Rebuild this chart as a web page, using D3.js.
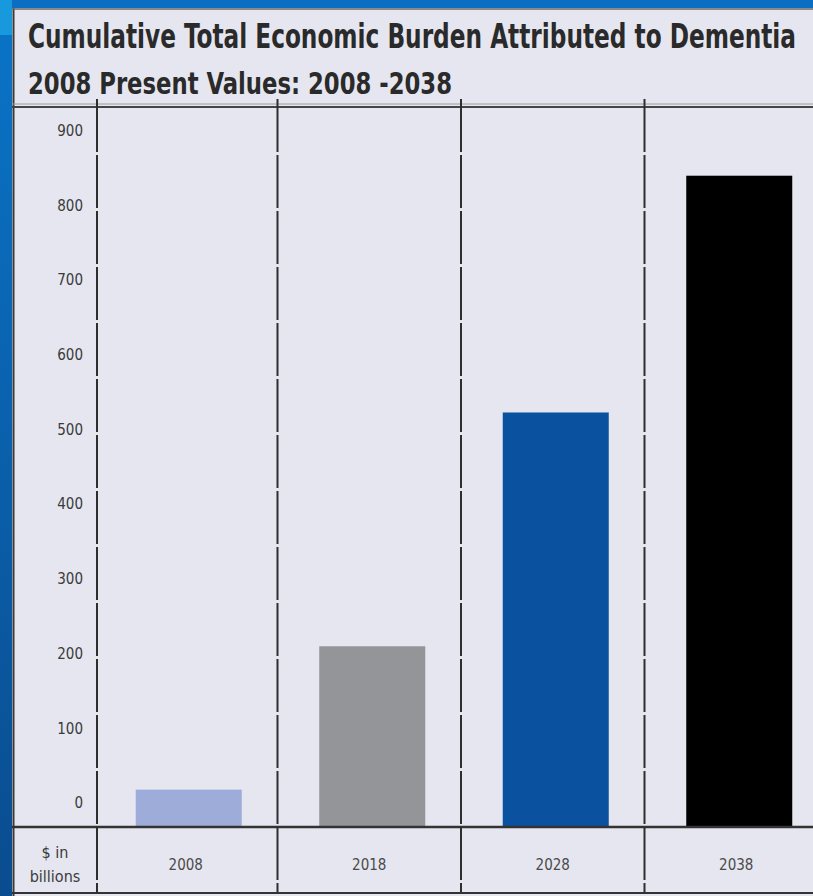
<!DOCTYPE html>
<html>
<head>
<meta charset="utf-8">
<script src="https://cdn.jsdelivr.net/npm/d3@7"></script>
<style>
  html, body { margin: 0; padding: 0; background: #0a6cc0; }
  svg { display: block; }
</style>
</head>
<body>
<div id="chart"></div>
<script>
// chart data
const years = ["2008", "2018", "2028", "2038"];
const burden = [50, 242, 555, 872];   // $ billions, cumulative
const yTicks = [0, 100, 200, 300, 400, 500, 600, 700, 800, 900];
const titleLines = [
  "Cumulative Total Economic Burden Attributed to Dementia",
  "2008 Present Values: 2008 -2038"
];
const unitLines = ["$ in", "billions"];

const barColors = ["#9dacd8", "#949599", "#0a52a0", "#000000"];

const width = 813, height = 896;
const narrow = "'DejaVu Sans Condensed', 'Liberation Sans Narrow', 'Roboto', sans-serif";

const svg = d3.select("#chart").append("svg")
  .attr("width", width)
  .attr("height", height);

const defs = svg.append("defs");
const stripGrad = defs.append("linearGradient")
  .attr("id", "stripGrad")
  .attr("x1", "0%").attr("x2", "0%")
  .attr("y1", "0%").attr("y2", "100%");
stripGrad.append("stop").attr("offset", "0%").attr("stop-color", "#0a74c8");
stripGrad.append("stop").attr("offset", "100%").attr("stop-color", "#0a4c8f");

// blue slide background
svg.append("rect").attr("width", width).attr("height", height).attr("fill", "url(#stripGrad)");
svg.append("rect").attr("x", 0).attr("y", 0).attr("width", width).attr("height", 9).attr("fill", "#0a6fc3");
svg.append("rect").attr("x", 0).attr("y", 0).attr("width", 12).attr("height", 35).attr("fill", "#1899dd");

// panel
const panelX = 12, panelY = 8;
svg.append("rect")
  .attr("x", panelX).attr("y", panelY)
  .attr("width", width - panelX + 5).attr("height", height - panelY + 5)
  .attr("fill", "#e5e6f0");

svg.append("line")
  .attr("x1", panelX + 1.5).attr("x2", panelX + 1.5)
  .attr("y1", panelY).attr("y2", height)
  .attr("stroke", "#3a3a3a").attr("stroke-width", 2);
svg.append("line")
  .attr("x1", panelX).attr("x2", width)
  .attr("y1", panelY + 1).attr("y2", panelY + 1)
  .attr("stroke", "#6a6a6a").attr("stroke-width", 1.5);

// title
svg.append("text")
  .attr("x", 28).attr("y", 48)
  .attr("font-family", narrow)
  .attr("font-weight", "bold")
  .attr("font-size", 34)
  .attr("fill", "#2a2a2a")
  .attr("textLength", 768)
  .attr("lengthAdjust", "spacingAndGlyphs")
  .text(titleLines[0]);

svg.append("text")
  .attr("x", 28).attr("y", 94)
  .attr("font-family", narrow)
  .attr("font-weight", "bold")
  .attr("font-size", 31)
  .attr("fill", "#2a2a2a")
  .attr("textLength", 424)
  .attr("lengthAdjust", "spacingAndGlyphs")
  .text(titleLines[1]);

// scales
const baseY = 827;
const y = d3.scaleLinear().domain([0, 964]).range([baseY, 107]);
const x = d3.scaleBand().domain(years).range([94, 828]).paddingInner(0).paddingOuter(0);
const barW = 106;

// horizontal rules
svg.append("line")
  .attr("x1", panelX).attr("x2", width)
  .attr("y1", 104).attr("y2", 104)
  .attr("stroke", "#9a9a9a").attr("stroke-width", 1);
svg.append("line")
  .attr("x1", panelX).attr("x2", width)
  .attr("y1", 107).attr("y2", 107)
  .attr("stroke", "#444").attr("stroke-width", 2);

// bars
svg.append("g").selectAll("rect")
  .data(burden)
  .join("rect")
  .attr("x", (d, i) => x(years[i]) + x.bandwidth() / 2 + 3 - barW / 2)
  .attr("y", d => y(d))
  .attr("width", barW)
  .attr("height", d => baseY - y(d))
  .attr("fill", (d, i) => barColors[i]);

// baseline + bottom border
svg.append("line")
  .attr("x1", panelX).attr("x2", width)
  .attr("y1", baseY).attr("y2", baseY)
  .attr("stroke", "#333").attr("stroke-width", 2.5);
svg.append("line")
  .attr("x1", panelX).attr("x2", width)
  .attr("y1", 893).attr("y2", 893)
  .attr("stroke", "#333").attr("stroke-width", 2);

// vertical separators (dashed)
const sepX = [97].concat(years.slice(1).map(d => x(d)));
svg.append("g").selectAll("line")
  .data(sepX)
  .join("line")
  .attr("x1", d => d).attr("x2", d => d)
  .attr("y1", 99).attr("y2", 893)
  .attr("stroke", "#2e2e2e")
  .attr("stroke-width", 2)
  .attr("stroke-dasharray", "53,3");

// y tick labels (sit above their gridline values in the original)
svg.append("g").selectAll("text")
  .data(yTicks)
  .join("text")
  .attr("x", 83)
  .attr("y", d => y(d) - 24)
  .attr("dy", "0.35em")
  .attr("text-anchor", "end")
  .attr("font-family", narrow)
  .attr("font-size", 15)
  .attr("fill", "#3a3a3a")
  .text(d => d);

// category labels
svg.append("g").selectAll("text")
  .data(years)
  .join("text")
  .attr("x", d => x(d) + x.bandwidth() / 2)
  .attr("y", 865)
  .attr("dy", "0.35em")
  .attr("text-anchor", "middle")
  .attr("font-family", narrow)
  .attr("font-size", 15)
  .attr("fill", "#4a4a4a")
  .text(d => d);

// unit label
svg.append("g").selectAll("text")
  .data(unitLines)
  .join("text")
  .attr("x", 55)
  .attr("y", (d, i) => 852 + i * 24)
  .attr("dy", "0.35em")
  .attr("text-anchor", "middle")
  .attr("font-family", narrow)
  .attr("font-size", 16)
  .attr("fill", "#3a3a3a")
  .text(d => d);
</script>
</body>
</html>
